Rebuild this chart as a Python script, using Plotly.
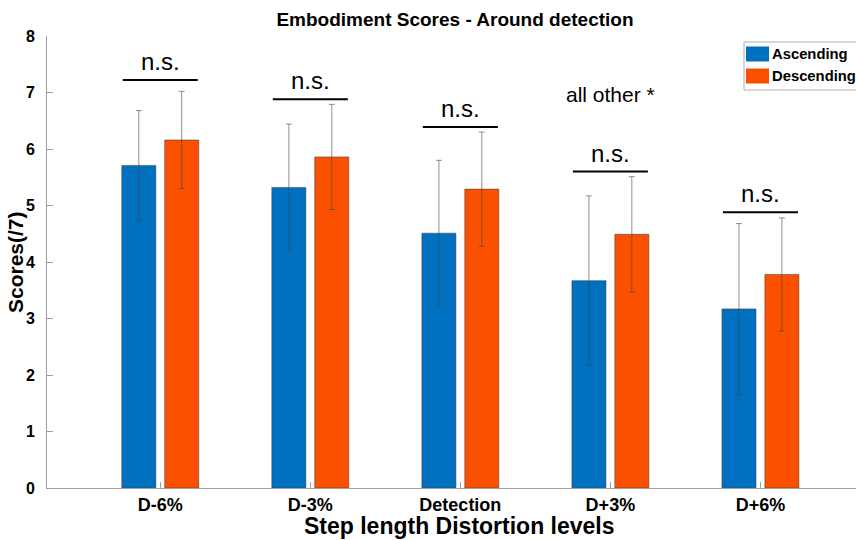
import plotly.graph_objects as go

categories = ["D-6%", "D-3%", "Detection", "D+3%", "D+6%"]
asc_mean = [5.71, 5.32, 4.51, 3.67, 3.17]
asc_err = [0.97, 1.12, 1.29, 1.50, 1.51]
desc_mean = [6.16, 5.86, 5.29, 4.49, 3.78]
desc_err = [0.86, 0.93, 1.01, 1.02, 1.00]
sig_level = [7.22, 6.88, 6.39, 5.60, 4.88]
sig_text = ["n.s.", "n.s.", "n.s.", "n.s.", "n.s."]
y_ticks = [0, 1, 2, 3, 4, 5, 6, 7, 8]

BLUE = "#0070C0"
ORANGE = "#FA5000"
FONT = "Liberation Sans, Arial, sans-serif"

W, H = 856, 540
L, R, T, B = 47, 0, 36, 52
PW = W - L - R
PH = H - T - B

def px(x):
    return (x - L) / PW

def py(y):
    return (H - B - y) / PH

xpos = [i + 1 for i in range(len(categories))]

fig = go.Figure()
err_style = dict(type="data", thickness=1, width=3, color="rgba(70,70,70,0.6)")
fig.add_trace(go.Bar(
    x=xpos, y=asc_mean, name="Ascending", marker_color=BLUE,
    marker_line=dict(color="rgba(60,60,60,0.5)", width=1),
    error_y=dict(array=asc_err, **err_style), showlegend=False))
fig.add_trace(go.Bar(
    x=xpos, y=desc_mean, name="Descending", marker_color=ORANGE,
    marker_line=dict(color="rgba(60,60,60,0.5)", width=1),
    error_y=dict(array=desc_err, **err_style), showlegend=False))

shapes = []
annotations = []
for xc, lvl, txt in zip(xpos, sig_level, sig_text):
    shapes.append(dict(type="line", xref="x", yref="y", x0=xc - 0.25, x1=xc + 0.25,
                       y0=lvl, y1=lvl, line=dict(color="black", width=2)))
    annotations.append(dict(x=xc, y=lvl, xref="x", yref="y", text=txt, showarrow=False,
                            yanchor="bottom", yshift=3,
                            font=dict(family=FONT, size=24, color="black")))

annotations.append(dict(x=4, y=6.96, xref="x", yref="y", text="all other *", showarrow=False,
                        font=dict(family=FONT, size=21, color="black")))

# legend box (manual, reaching the right edge like the reference)
shapes.append(dict(type="rect", xref="paper", yref="paper", x0=px(744), x1=px(920),
                   y0=py(90), y1=py(42), line=dict(color="#b0b0b0", width=1), fillcolor="white"))
for name, col, yc in [("Ascending", BLUE, 54), ("Descending", ORANGE, 76)]:
    shapes.append(dict(type="rect", xref="paper", yref="paper", x0=px(746), x1=px(769),
                       y0=py(yc + 7.5), y1=py(yc - 7.5), line=dict(width=0), fillcolor=col))
    annotations.append(dict(x=px(770), y=py(yc), xref="paper", yref="paper", text="<b>%s</b>" % name,
                            showarrow=False, xanchor="left", yanchor="middle",
                            font=dict(family=FONT, size=14.8, color="black")))

# axis titles
annotations.append(dict(x=px(15), y=0.5, xref="paper", yref="paper", text="<b>Scores(/7)</b>",
                        textangle=-90, showarrow=False, xanchor="center", yanchor="middle",
                        font=dict(family=FONT, size=21, color="black")))
annotations.append(dict(x=px(460), y=py(526), xref="paper", yref="paper",
                        text="<b>Step length Distortion levels</b>",
                        showarrow=False, xanchor="center", yanchor="middle",
                        font=dict(family=FONT, size=23, color="black")))

fig.update_layout(
    width=W, height=H,
    margin=dict(l=L, r=R, t=T, b=B),
    paper_bgcolor="white", plot_bgcolor="white",
    barmode="group", bargap=0.428, bargroupgap=0.206,
    title=dict(text="<b>Embodiment Scores - Around detection</b>", xref="container", x=455 / W,
               xanchor="center", y=1 - 19 / H, yanchor="middle",
               font=dict(family=FONT, size=19, color="black")),
    xaxis=dict(range=[0.245, 5.637], tickmode="array", tickvals=xpos,
               ticktext=["<b>%s</b>" % c for c in categories],
               ticks="inside", ticklen=6, tickcolor="#a0a0a0", showline=True, linecolor="#a0a0a0",
               linewidth=1, showgrid=False, zeroline=False,
               tickfont=dict(family=FONT, size=18, color="black")),
    yaxis=dict(range=[0, 8], tickvals=y_ticks, ticktext=["<b>%d</b>" % v for v in y_ticks],
               ticks="inside", ticklen=6, tickcolor="#a0a0a0", showline=True, linecolor="#a0a0a0",
               linewidth=1, showgrid=False, zeroline=False, ticklabelstandoff=8,
               tickfont=dict(family=FONT, size=16, color="black")),
    shapes=shapes, annotations=annotations,
)

fig.write_html("out.html")
